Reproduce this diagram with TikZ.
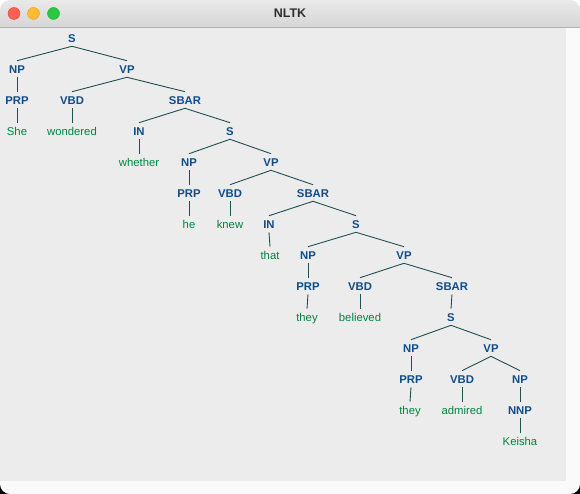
\documentclass[tikz,border=0pt]{standalone}
\usepackage{fontspec}
\setmainfont{Liberation Sans}
\definecolor{ntcol}{HTML}{0F4C8A}
\definecolor{lfcol}{HTML}{00843F}
\definecolor{lncol}{HTML}{1F4F4F}
\definecolor{canvasgray}{HTML}{ECECEC}
\definecolor{stripwhite}{HTML}{FAFAFA}
\definecolor{titletop}{HTML}{E9E9E9}
\definecolor{titlebot}{HTML}{D6D6D6}
\definecolor{redl}{RGB}{254,95,87}
\definecolor{redd}{RGB}{224,68,62}
\definecolor{yell}{RGB}{254,188,46}
\definecolor{yeld}{RGB}{222,160,35}
\definecolor{grnl}{RGB}{40,200,64}
\definecolor{grnd}{RGB}{29,173,43}
\tikzset{
  nt/.style={font=\fontsize{11.3}{12}\selectfont\bfseries, text=ntcol, inner sep=0pt, outer sep=4pt, text height=8.6pt, text depth=0pt, anchor=center},
  lf/.style={font=\fontsize{11.3}{12}\selectfont, text=lfcol, inner sep=0pt, outer sep=4pt, text height=8.6pt, text depth=0pt, anchor=center},
  edge/.style={draw=lncol, line width=0.9pt},
  light/.style={circle, minimum size=12pt, inner sep=0pt, line width=0.4pt}
}
\begin{document}
\begin{tikzpicture}[x=1pt,y=-1pt]
\useasboundingbox (0,0) rectangle (580,494);
\fill[white] (0,0) rectangle (580,494);
\fill[black] (0,482) rectangle (12,494);
\fill[black] (568,482) rectangle (580,494);
\begin{scope}
\clip[rounded corners=10pt] (0,0) rectangle (580,494);
\shade[top color=titletop, bottom color=titlebot] (0,0) rectangle (580,27);
\fill[canvasgray] (0,28) rectangle (566,481);
\fill[stripwhite] (566,28) rectangle (580,494);
\fill[stripwhite] (0,481) rectangle (566,494);
\draw[color=black!30, line width=0.8pt] (0,27.5) -- (580,27.5);
\end{scope}
\node[light, fill=redl, draw=redd] (red) at (14,13.5) {};
\node[light, fill=yell, draw=yeld] (yellow) at (33.5,13.5) {};
\node[light, fill=grnl, draw=grnd] (green) at (53.5,13.5) {};
\node[font=\fontsize{12.5}{14}\selectfont\bfseries, text=black!82] (title) at (290,13.5) {NLTK};

% tree nodes
\node[nt] (s1) at (72,38) {S};
\node[nt] (np1) at (17,69) {NP};
\node[nt] (vp1) at (127,69) {VP};
\node[nt] (prp1) at (17,100) {PRP};
\node[nt] (vbd1) at (72,100) {VBD};
\node[nt] (sbar1) at (185,100) {SBAR};
\node[lf] (w1) at (17,131) {She};
\node[lf] (w2) at (72,131) {wondered};
\node[nt] (in1) at (139,131) {IN};
\node[nt] (s2) at (230,131) {S};
\node[lf] (w3) at (139,162) {whether};
\node[nt] (np2) at (189,162) {NP};
\node[nt] (vp2) at (271,162) {VP};
\node[nt] (prp2) at (189,193) {PRP};
\node[nt] (vbd2) at (230,193) {VBD};
\node[nt] (sbar2) at (313,193) {SBAR};
\node[lf] (w4) at (189,224) {he};
\node[lf] (w5) at (230,224) {knew};
\node[nt] (in2) at (269,224) {IN};
\node[nt] (s3) at (356,224) {S};
\node[lf] (w6) at (270,255) {that};
\node[nt] (np3) at (308,255) {NP};
\node[nt] (vp3) at (404,255) {VP};
\node[nt] (prp3) at (308,286) {PRP};
\node[nt] (vbd3) at (360,286) {VBD};
\node[nt] (sbar3) at (452,286) {SBAR};
\node[lf] (w7) at (307,317) {they};
\node[lf] (w8) at (360,317) {believed};
\node[nt] (s4) at (451,317) {S};
\node[nt] (np4) at (411,348) {NP};
\node[nt] (vp4) at (491,348) {VP};
\node[nt] (prp4) at (411,379) {PRP};
\node[nt] (vbd4) at (462,379) {VBD};
\node[nt] (np5) at (520,379) {NP};
\node[lf] (w9) at (410,410) {they};
\node[lf] (w10) at (462,410) {admired};
\node[nt] (nnp1) at (520,410) {NNP};
\node[lf] (w11) at (520,441) {Keisha};

% edges
\draw[edge] (s1.south) -- (np1.north);
\draw[edge] (s1.south) -- (vp1.north);
\draw[edge] (np1.south) -- (prp1.north);
\draw[edge] (prp1.south) -- (w1.north);
\draw[edge] (vp1.south) -- (vbd1.north);
\draw[edge] (vp1.south) -- (sbar1.north);
\draw[edge] (vbd1.south) -- (w2.north);
\draw[edge] (sbar1.south) -- (in1.north);
\draw[edge] (sbar1.south) -- (s2.north);
\draw[edge] (in1.south) -- (w3.north);
\draw[edge] (s2.south) -- (np2.north);
\draw[edge] (s2.south) -- (vp2.north);
\draw[edge] (np2.south) -- (prp2.north);
\draw[edge] (prp2.south) -- (w4.north);
\draw[edge] (vp2.south) -- (vbd2.north);
\draw[edge] (vp2.south) -- (sbar2.north);
\draw[edge] (vbd2.south) -- (w5.north);
\draw[edge] (sbar2.south) -- (in2.north);
\draw[edge] (sbar2.south) -- (s3.north);
\draw[edge] (in2.south) -- (w6.north);
\draw[edge] (s3.south) -- (np3.north);
\draw[edge] (s3.south) -- (vp3.north);
\draw[edge] (np3.south) -- (prp3.north);
\draw[edge] (prp3.south) -- (w7.north);
\draw[edge] (vp3.south) -- (vbd3.north);
\draw[edge] (vp3.south) -- (sbar3.north);
\draw[edge] (vbd3.south) -- (w8.north);
\draw[edge] (sbar3.south) -- (s4.north);
\draw[edge] (s4.south) -- (np4.north);
\draw[edge] (s4.south) -- (vp4.north);
\draw[edge] (np4.south) -- (prp4.north);
\draw[edge] (prp4.south) -- (w9.north);
\draw[edge] (vp4.south) -- (vbd4.north);
\draw[edge] (vp4.south) -- (np5.north);
\draw[edge] (vbd4.south) -- (w10.north);
\draw[edge] (np5.south) -- (nnp1.north);
\draw[edge] (nnp1.south) -- (w11.north);
\end{tikzpicture}
\end{document}
